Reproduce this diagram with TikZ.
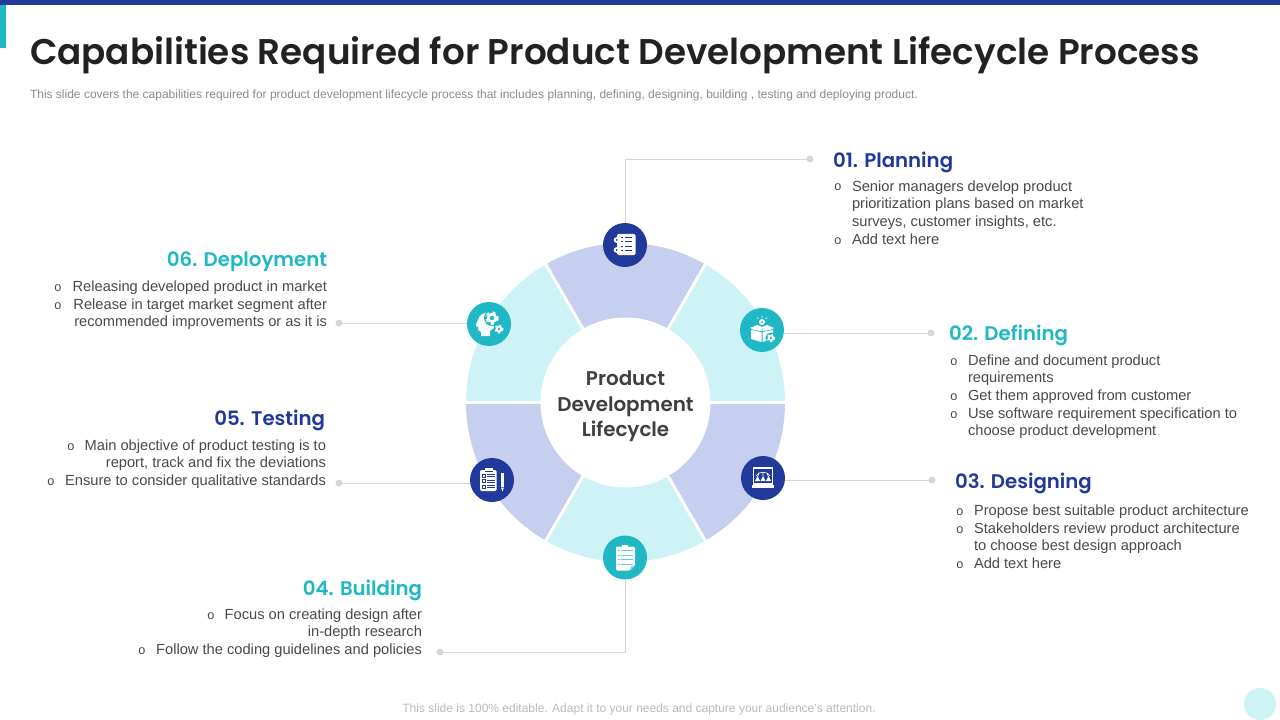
\documentclass[tikz,border=0pt]{standalone}
\usepackage{fontspec}
\usetikzlibrary{calc}
\setmainfont{Liberation Sans}
\newfontfamily\headfont{Poppins SemiBold}
\definecolor{navy}{HTML}{21399A}
\definecolor{teal1}{HTML}{1FB8C4}
\definecolor{lightnavy}{HTML}{C7CFF1}
\definecolor{lightteal}{HTML}{CEF3F6}
\definecolor{txt}{HTML}{4A4A4A}
\definecolor{ttl}{HTML}{222222}
\definecolor{leader}{HTML}{D4D6DA}
\tikzset{
  every node/.style={inner sep=0pt,outer sep=0pt},
  badge/.style={circle,minimum size=33pt,draw=none},
  leaderline/.style={draw=leader,line width=0.7pt},
  enddot/.style={circle,fill=leader,minimum size=5.2pt},
  bodyleft/.style={anchor=north west,align=left,text=txt,font=\fontsize{11}{13.2}\selectfont},
  bodyright/.style={anchor=north east,align=right,text=txt,font=\fontsize{11}{13.2}\selectfont},
  bulletmark/.style={anchor=base,text=txt,font=\fontsize{9.5}{10}\selectfont},
  headnavy/.style={text=navy,font=\headfont\fontsize{14.8}{18}\selectfont},
  headteal/.style={text=teal1,font=\headfont\fontsize{14.8}{18}\selectfont},
}
\newcommand{\rl}{\rule{0pt}{9pt}}
\newcommand{\gearicon}[4]{% x y r bg
  \fill[white] (#1,#2) circle[radius=#3];
  \draw[white,line width=#3*0.42pt,dash pattern=on #3*0.42pt off #3*0.5pt] (#1,#2) circle[radius=#3*1.05];
  \fill[#4] (#1,#2) circle[radius=#3*0.42];
}
\begin{document}
\begin{tikzpicture}[x=0.75pt,y=-0.75pt]
\useasboundingbox (0,0) rectangle (1280,720);
\fill[white] (0,0) rectangle (1280,720);
% top bars
\fill[navy] (0,0) rectangle (1280,5);
\fill[teal1] (0,5) rectangle (6,48);
\fill[lightteal] (1260,704) circle[radius=16];
% title
\node[anchor=base west,text=ttl,font=\headfont\fontsize{26.8}{32}\selectfont] (title) at (30,65) {Capabilities Required for Product Development Lifecycle Process};
\node[anchor=base west,text=gray!90,font=\fontsize{9.0}{10}\selectfont] (sub) at (30,98.5) {This slide covers the capabilities required for product development lifecycle process that includes planning, defining, designing, building , testing and deploying product.};
\node[anchor=base,text=black!27,font=\fontsize{9}{10}\selectfont] (foot) at (639,712.5) {This slide is 100\% editable. Adapt it to your needs and capture your audience's attention.};
% ring
\coordinate (c) at (625.5,402.5);
\foreach \a/\col in {-120/lightnavy,-60/lightteal,0/lightnavy,60/lightteal,120/lightnavy,180/lightteal}{
  \fill[\col] (c) -- ($(c)+(\a:159.5)$) arc[start angle=\a,delta angle=60,radius=159.5] -- cycle;
}
\foreach \a in {-120,-60,0,60,120,180}{
  \draw[white,line width=2.2pt] (c) -- ($(c)+(\a:163)$);
}
\node[circle,fill=white,minimum size=127.5pt] (hub) at (c) {};
\node[align=center,text=txt!85!black,font=\headfont\fontsize{14.9}{19.2}\selectfont] (hubtext) at (625.5,406.5) {Product\\Development\\Lifecycle};
% badges
\node[badge,fill=navy] (b1) at (625,245) {};
\node[badge,fill=teal1] (b2) at (762,330) {};
\node[badge,fill=navy] (b3) at (763,478) {};
\node[badge,fill=teal1] (b4) at (625,557.5) {};
\node[badge,fill=navy] (b5) at (492,480) {};
\node[badge,fill=teal1] (b6) at (489,324) {};
% dots
\node[enddot] (d1) at (810,159) {};
\node[enddot] (d2) at (931,333) {};
\node[enddot] (d3) at (932,480) {};
\node[enddot] (d4) at (440,652) {};
\node[enddot] (d5) at (339,483) {};
\node[enddot] (d6) at (339,323) {};
% connectors
\draw[leaderline] (b1.north) |- (d1.west);
\draw[leaderline] (b2.east|-d2) -- (d2.west);
\draw[leaderline] (b3.east|-d3) -- (d3.west);
\draw[leaderline] (b4.south) |- (d4.east);
\draw[leaderline] (b5.west|-d5) -- (d5.east);
\draw[leaderline] (b6.west|-d6) -- (d6.east);
% ---- icon 1: notebook
\begin{scope}[shift={(625,245)}]
\fill[white,rounded corners=1pt] (-8,-11) rectangle (10.5,10);
\fill[white] (-8.5,-5) circle[radius=2.8] (-8.5,5) circle[radius=2.8];
\fill[navy] (-8.5,-5) circle[radius=1] (-8.5,5) circle[radius=1];
\foreach \yy in {-7.5,-3.3,1,5.5}{
  \fill[navy] (-4,\yy-0.5) rectangle (-2,\yy+0.5);
  \fill[navy] (0,\yy-0.5) rectangle (7,\yy+0.5);
}
\end{scope}
% ---- icon 2: box
\begin{scope}[shift={(762,330)}]
\fill[white] (-11,0) -- (-0.5,2) -- (-0.5,12) -- (-11,9) -- cycle;
\fill[white] (0.5,2) -- (11,0) -- (11,9) -- (0.5,12) -- cycle;
\fill[white] (-12,-2) -- (-5,-5) -- (0,-3) -- (-0.5,1) -- (-8,0) -- cycle;
\fill[white] (12,-2) -- (5,-5) -- (0,-3) -- (0.5,1) -- (8,0) -- cycle;
\fill[white] (0,-8) circle[radius=3];
\fill[teal1] (0,-8) circle[radius=1];
\draw[white,line width=0.5pt] (0,-14)--(0,-12) (-5,-12.5)--(-3.8,-11.2) (5,-12.5)--(3.8,-11.2);
\fill[teal1] (9,8) circle[radius=5.5];
\gearicon{9}{8}{3.2}{teal1}
\end{scope}
% ---- icon 3: laptop
\begin{scope}[shift={(763,478)}]
\draw[white,line width=0.6pt] (-9.5,-11) rectangle (9.5,7);
\fill[white] (-9.5,-11) rectangle (9.5,-9);
\fill[white] (-11,7) rectangle (11,10);
\fill[white] (-9.5,5) rectangle (9.5,7);
\draw[white,line width=0.5pt] (-7,-2) .. controls (-5,-7) and (5,-7) .. (7,-2);
\draw[white,line width=0.5pt] (0,-6) -- (0,-2) (-4,-5) -- (-5.5,-1) (4,-5) -- (5.5,-1);
\fill[white] (-5.5,-2) -- (-3,3) -- (-8,3) -- cycle;
\fill[white] (5.5,-2) -- (8,3) -- (3,3) -- cycle;
\fill[white] (0,-2) -- (2.5,3) -- (-2.5,3) -- cycle;
\end{scope}
% ---- icon 4: clipboard
\begin{scope}[shift={(625,557.5)}]
\fill[white,rounded corners=1pt] (-9,-11) -- (10,-11) -- (10,8) -- (5,13) -- (-9,13) -- cycle;
\fill[white] (-3,-13) rectangle (3,-10);
\foreach \yy in {-7,-2.5,2,6.5}{
  \fill[teal1!70!white] (-7,\yy-0.35) rectangle (-5.5,\yy+0.35);
  \fill[teal1!70!white] (-4,\yy-0.35) rectangle (7.5,\yy+0.35);
}
\fill[teal1!60!white] (5,13) -- (10,8) -- (6,9) -- cycle;
\end{scope}
% ---- icon 5: clipboard and pencil
\begin{scope}[shift={(492,480)}]
\fill[white,rounded corners=1pt] (-12,-10) rectangle (4.5,11);
\fill[white] (-7,-12) rectangle (1,-9);
\fill[navy] (-7,-9) rectangle (1,-8.3);
\foreach \yy in {-4.5,1,6.5}{
  \draw[navy,line width=0.45pt] (-10,\yy-1.7) rectangle (-6.8,\yy+1.7);
  \fill[navy] (-5,\yy-1.4) rectangle (3,\yy-0.7);
  \fill[navy] (-5,\yy+0.7) rectangle (3,\yy+1.4);
}
\fill[white] (9,-7) rectangle (12,7);
\fill[white] (9,7.5) -- (12,7.5) -- (10.5,11.5) -- cycle;
\end{scope}
% ---- icon 6: head with gears
\begin{scope}[shift={(489,324)}]
\fill[white] (1,12) -- (-8,12) -- (-8,8) .. controls (-10,7) and (-12,6) .. (-10.5,3)
  .. controls (-12.5,3) and (-14,2) .. (-13,0) -- (-11,-4) .. controls (-10,-9) and (-5,-12) .. (0,-11) -- (4,-2) -- (5,4) -- (1,7) -- cycle;
\fill[teal1] (3,-6) circle[radius=8];
\gearicon{3}{-6}{5.2}{teal1}
\fill[teal1] (10,5) circle[radius=5.6];
\gearicon{10}{5}{3.4}{teal1}
\end{scope}
% ---- text blocks
% 01
\node[headnavy,anchor=base west] (h1) at (833,168) {01. Planning};
\node[bulletmark] (o11) at (838,191) {o};
\node[bodyleft] (t11) at (852,179.3) {\rl Senior managers develop product\\prioritization plans based on market\\surveys, customer insights, etc.};
\node[bulletmark] (o12) at (838,244) {o};
\node[bodyleft] (t12) at (852,232) {\rl Add text here};
% 02
\node[headteal,anchor=base west] (h2) at (949,340) {02. Defining};
\node[bulletmark] (o21) at (954,365) {o};
\node[bodyleft] (t21) at (968,353) {\rl Define and document product\\requirements};
\node[bulletmark] (o22) at (954,400) {o};
\node[bodyleft] (t22) at (968,388) {\rl Get them approved from customer};
\node[bulletmark] (o23) at (954,418) {o};
\node[bodyleft] (t23) at (968,406) {\rl Use software requirement specification to\\choose product development};
% 03
\node[headnavy,anchor=base west] (h3) at (955,488) {03. Designing};
\node[bulletmark] (o31) at (960,515) {o};
\node[bodyleft] (t31) at (974,503) {\rl Propose best suitable product architecture};
\node[bulletmark] (o32) at (960,533) {o};
\node[bodyleft] (t32) at (974,521) {\rl Stakeholders review product architecture\\to choose best design approach};
\node[bulletmark] (o33) at (960,568) {o};
\node[bodyleft] (t33) at (974,556) {\rl Add text here};
% 04
\node[headteal,anchor=base east] (h4) at (422,595) {04. Building};
\node[bulletmark] (o41) at (211,619) {o};
\node[bodyright] (t41) at (422,607) {\rl Focus on creating design after\\in-depth research};
\node[bulletmark] (o42) at (142,654) {o};
\node[bodyright] (t42) at (422,642) {\rl Follow the coding guidelines and policies};
% 05
\node[headnavy,anchor=base east] (h5) at (325,425) {05. Testing};
\node[bulletmark] (o51) at (71,450) {o};
\node[bodyright] (t51) at (326,438) {\rl Main objective of product testing is to\\report, track and fix the deviations};
\node[bulletmark] (o52) at (51,485) {o};
\node[bodyright] (t52) at (326,473) {\rl Ensure to consider qualitative standards};
% 06
\node[headteal,anchor=base east] (h6) at (327,267) {06. Deployment};
\node[bulletmark] (o61) at (58,291) {o};
\node[bodyright] (t61) at (327,279) {\rl Releasing developed product in market};
\node[bulletmark] (o62) at (58,309) {o};
\node[bodyright] (t62) at (327,297) {\rl Release in target market segment after\\recommended improvements or as it is};
\end{tikzpicture}
\end{document}
